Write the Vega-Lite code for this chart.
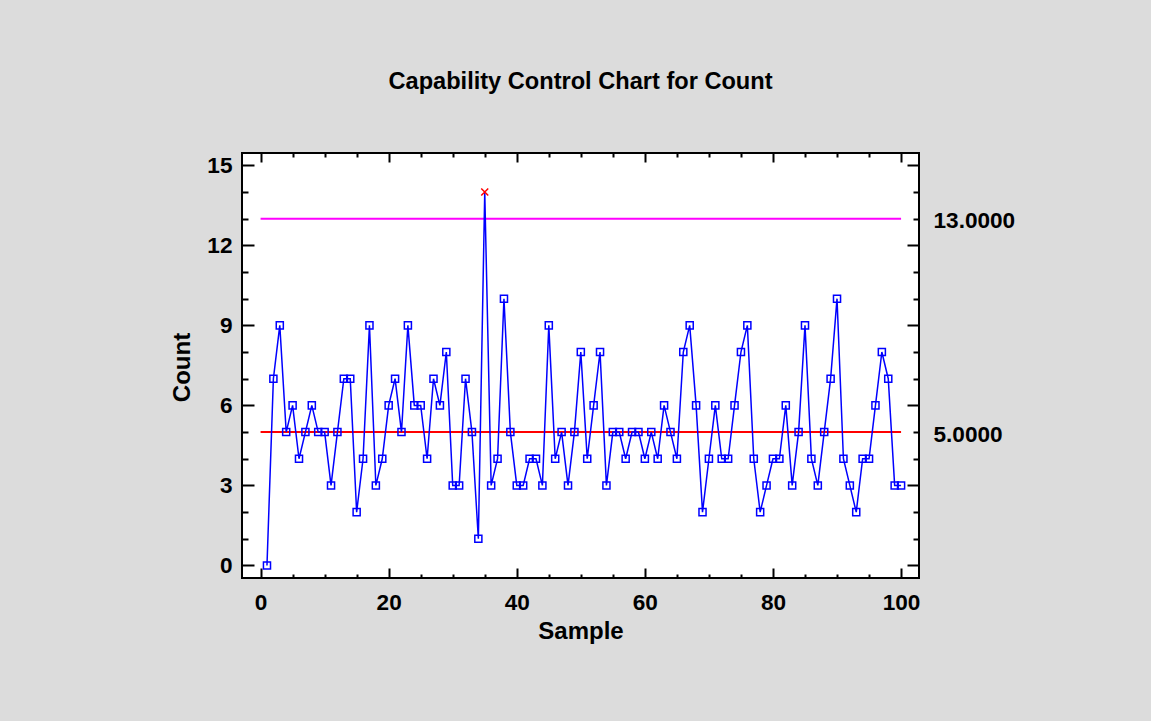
{
  "$schema": "https://vega.github.io/schema/vega-lite/v6.json",
  "width": 677,
  "height": 425,
  "autosize": {"type": "none"},
  "padding": {"left": 242, "top": 153, "right": 232, "bottom": 143},
  "background": "#dcdcdc",
  "title": {
    "text": "Capability Control Chart for Count",
    "anchor": "middle",
    "frame": "group",
    "baseline": "alphabetic",
    "offset": 39,
    "font": "Liberation Sans",
    "fontSize": 23.6,
    "fontWeight": "bold",
    "color": "#000000"
  },
  "config": {
    "view": {"fill": "#ffffff", "stroke": "#000000", "strokeWidth": 2},
    "axis": {
      "domain": false,
      "grid": false,
      "tickColor": "#000000",
      "tickWidth": 2,
      "labelFont": "Liberation Sans",
      "labelFontWeight": "bold",
      "labelFontSize": 22.6,
      "labelColor": "#000000",
      "titleFont": "Liberation Sans",
      "titleFontWeight": "bold",
      "titleFontSize": 24,
      "titleColor": "#000000",
      "labelOverlap": false,
      "labelBound": false,
      "labelFlush": false
    }
  },
  "datasets": {
    "counts": [
      {"Sample":1,"Count":0},{"Sample":2,"Count":7},{"Sample":3,"Count":9},{"Sample":4,"Count":5},{"Sample":5,"Count":6},
      {"Sample":6,"Count":4},{"Sample":7,"Count":5},{"Sample":8,"Count":6},{"Sample":9,"Count":5},{"Sample":10,"Count":5},
      {"Sample":11,"Count":3},{"Sample":12,"Count":5},{"Sample":13,"Count":7},{"Sample":14,"Count":7},{"Sample":15,"Count":2},
      {"Sample":16,"Count":4},{"Sample":17,"Count":9},{"Sample":18,"Count":3},{"Sample":19,"Count":4},{"Sample":20,"Count":6},
      {"Sample":21,"Count":7},{"Sample":22,"Count":5},{"Sample":23,"Count":9},{"Sample":24,"Count":6},{"Sample":25,"Count":6},
      {"Sample":26,"Count":4},{"Sample":27,"Count":7},{"Sample":28,"Count":6},{"Sample":29,"Count":8},{"Sample":30,"Count":3},
      {"Sample":31,"Count":3},{"Sample":32,"Count":7},{"Sample":33,"Count":5},{"Sample":34,"Count":1},{"Sample":35,"Count":14},
      {"Sample":36,"Count":3},{"Sample":37,"Count":4},{"Sample":38,"Count":10},{"Sample":39,"Count":5},{"Sample":40,"Count":3},
      {"Sample":41,"Count":3},{"Sample":42,"Count":4},{"Sample":43,"Count":4},{"Sample":44,"Count":3},{"Sample":45,"Count":9},
      {"Sample":46,"Count":4},{"Sample":47,"Count":5},{"Sample":48,"Count":3},{"Sample":49,"Count":5},{"Sample":50,"Count":8},
      {"Sample":51,"Count":4},{"Sample":52,"Count":6},{"Sample":53,"Count":8},{"Sample":54,"Count":3},{"Sample":55,"Count":5},
      {"Sample":56,"Count":5},{"Sample":57,"Count":4},{"Sample":58,"Count":5},{"Sample":59,"Count":5},{"Sample":60,"Count":4},
      {"Sample":61,"Count":5},{"Sample":62,"Count":4},{"Sample":63,"Count":6},{"Sample":64,"Count":5},{"Sample":65,"Count":4},
      {"Sample":66,"Count":8},{"Sample":67,"Count":9},{"Sample":68,"Count":6},{"Sample":69,"Count":2},{"Sample":70,"Count":4},
      {"Sample":71,"Count":6},{"Sample":72,"Count":4},{"Sample":73,"Count":4},{"Sample":74,"Count":6},{"Sample":75,"Count":8},
      {"Sample":76,"Count":9},{"Sample":77,"Count":4},{"Sample":78,"Count":2},{"Sample":79,"Count":3},{"Sample":80,"Count":4},
      {"Sample":81,"Count":4},{"Sample":82,"Count":6},{"Sample":83,"Count":3},{"Sample":84,"Count":5},{"Sample":85,"Count":9},
      {"Sample":86,"Count":4},{"Sample":87,"Count":3},{"Sample":88,"Count":5},{"Sample":89,"Count":7},{"Sample":90,"Count":10},
      {"Sample":91,"Count":4},{"Sample":92,"Count":3},{"Sample":93,"Count":2},{"Sample":94,"Count":4},{"Sample":95,"Count":4},
      {"Sample":96,"Count":6},{"Sample":97,"Count":8},{"Sample":98,"Count":7},{"Sample":99,"Count":3},{"Sample":100,"Count":3}
    ],
    "limits": [
      {"Limit":"UCL","Value":13,"Start":0,"End":100},
      {"Limit":"CL","Value":5,"Start":0,"End":100}
    ]
  },
  "resolve": {"axis": {"x": "independent", "y": "independent"}},
  "layer": [
    {
      "data": {"name": "limits"},
      "mark": {"type": "rule", "strokeWidth": 2},
      "encoding": {
        "x": {
          "field": "Start", "type": "quantitative",
          "scale": {"domain": [-2.9, 102.8], "nice": false, "zero": false},
          "axis": {
            "orient": "bottom",
            "title": "Sample",
            "values": [0,5,10,15,20,25,30,35,40,45,50,55,60,65,70,75,80,85,90,95,100],
            "labelExpr": "datum.value % 20 == 0 ? datum.label : ''",
            "tickSize": {"condition": {"test": "datum.value % 20 == 0", "value": -10}, "value": -4},
            "labelPadding": 23,
            "titleBaseline": "middle",
            "titleX": 338.5,
            "titleY": 53
          }
        },
        "x2": {"field": "End"},
        "y": {
          "field": "Value", "type": "quantitative",
          "scale": {"domain": [-0.47, 15.46], "nice": false, "zero": false},
          "axis": {
            "orient": "left",
            "title": "Count",
            "values": [0,1,2,3,4,5,6,7,8,9,10,11,12,13,14,15],
            "labelExpr": "datum.value % 3 == 0 ? datum.label : ''",
            "tickSize": {"condition": {"test": "datum.value % 3 == 0", "value": -12}, "value": -6},
            "labelPadding": 22,
            "titleBaseline": "middle",
            "titleAngle": -90,
            "titleX": -60,
            "titleY": 214
          }
        },
        "color": {
          "field": "Limit", "type": "nominal",
          "scale": {"domain": ["UCL", "CL"], "range": ["#ff00ff", "#ff0000"]},
          "legend": null
        }
      }
    },
    {
      "data": {"name": "counts"},
      "mark": {"type": "line", "color": "#0000ff", "strokeWidth": 1.5},
      "encoding": {
        "x": {
          "field": "Sample", "type": "quantitative",
          "scale": {"domain": [-2.9, 102.8], "nice": false, "zero": false},
          "axis": {
            "orient": "top",
            "title": null,
            "labels": false,
            "values": [0,5,10,15,20,25,30,35,40,45,50,55,60,65,70,75,80,85,90,95,100],
            "tickSize": {"condition": {"test": "datum.value % 20 == 0", "value": -9}, "value": -4}
          }
        },
        "y": {
          "field": "Count", "type": "quantitative",
          "scale": {"domain": [-0.47, 15.46], "nice": false, "zero": false},
          "axis": {
            "orient": "right",
            "title": null,
            "values": [0,1,2,3,4,5,6,7,8,9,10,11,12,13,14,15],
            "labelExpr": "datum.value == 13 || datum.value == 5 ? format(datum.value, '.4f') : ''",
            "tickSize": {"condition": {"test": "datum.value % 3 == 0", "value": -12}, "value": -6},
            "labelPadding": 20,
            "labelOffset": 2
          }
        }
      }
    },
    {
      "data": {"name": "counts"},
      "mark": {"type": "point", "filled": false, "strokeWidth": 1.5, "opacity": 1},
      "encoding": {
        "x": {
          "field": "Sample", "type": "quantitative",
          "scale": {"domain": [-2.9, 102.8], "nice": false, "zero": false},
          "axis": null
        },
        "y": {
          "field": "Count", "type": "quantitative",
          "scale": {"domain": [-0.47, 15.46], "nice": false, "zero": false},
          "axis": null
        },
        "shape": {
          "condition": {"test": "datum.Count > 13", "value": "M-1,-1L1,1M1,-1L-1,1"},
          "value": "square"
        },
        "stroke": {
          "condition": {"test": "datum.Count > 13", "value": "#ff0000"},
          "value": "#0000ff"
        },
        "size": {
          "condition": {"test": "datum.Count > 13", "value": 49},
          "value": 50
        }
      }
    }
  ]
}
